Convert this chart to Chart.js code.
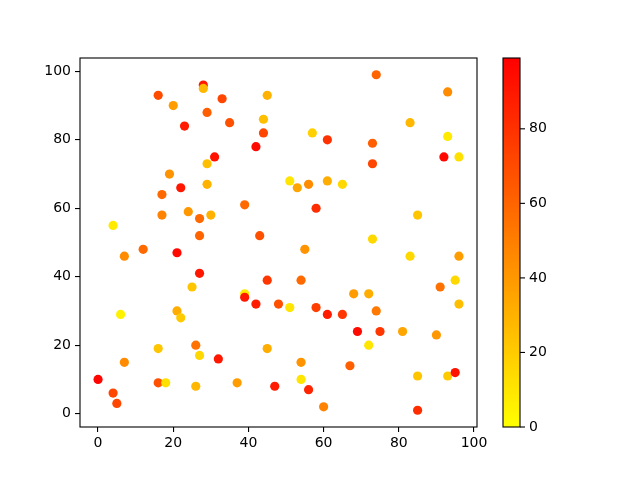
<!DOCTYPE html>
<html>
<head>
<meta charset="utf-8">
<script src="https://cdn.jsdelivr.net/npm/chart.js@4.4.1/dist/chart.umd.min.js"></script>
<style>
  html, body { margin: 0; padding: 0; background: #fff; }
  canvas { display: block; }
</style>
</head>
<body>
<canvas id="scatter-chart" width="640" height="480"></canvas>
<script>
// Scatter coloured by value, autumn_r colormap with colorbar

const xValues = [0, 4, 5, 4, 6, 7, 7, 12, 16, 16, 16, 17, 17, 18, 19, 20, 21, 21, 22, 22,
  23, 24, 25, 26, 26, 27, 27, 27, 27, 28, 28, 29, 29, 29, 30, 31, 32, 33, 35, 37,
  39, 39, 39, 42, 42, 43, 44, 44, 45, 45, 45, 47, 48, 51, 51, 53, 54, 54, 54, 55,
  56, 56, 57, 58, 58, 60, 61, 61, 61, 65, 65, 67, 68, 69, 72, 72, 73, 73, 73, 74,
  74, 75, 81, 83, 83, 85, 85, 85, 90, 91, 92, 93, 93, 93, 95, 95, 96, 96, 96];
const yValues = [10, 6, 3, 55, 29, 46, 15, 48, 93, 19, 9, 64, 58, 9, 70, 90, 47, 30, 66, 28,
  84, 59, 37, 20, 8, 57, 52, 41, 17, 96, 95, 88, 73, 67, 58, 75, 16, 92, 85, 9,
  61, 35, 34, 78, 32, 52, 86, 82, 93, 39, 19, 8, 32, 68, 31, 66, 39, 15, 10, 48,
  67, 7, 82, 60, 31, 2, 80, 68, 29, 67, 29, 14, 35, 24, 35, 20, 79, 73, 51, 99,
  30, 24, 24, 85, 46, 58, 11, 1, 23, 37, 75, 94, 81, 11, 39, 12, 75, 46, 32];
const cValues = [97, 72, 72, 8, 5, 45, 45, 58, 70, 22, 68, 58, 48, 12, 42, 38, 95, 32, 90, 20,
  88, 40, 22, 55, 28, 58, 60, 90, 15, 90, 28, 62, 25, 30, 30, 92, 90, 72, 68, 38,
  58, 8, 90, 95, 88, 68, 25, 72, 30, 78, 32, 88, 68, 10, 10, 35, 58, 42, 10, 42,
  45, 85, 18, 82, 75, 48, 80, 32, 88, 15, 78, 62, 38, 95, 32, 10, 62, 72, 15, 60,
  52, 78, 35, 28, 15, 22, 22, 82, 40, 55, 96, 45, 8, 20, 15, 92, 12, 38, 25];

const xTicks = [0, 20, 40, 60, 80, 100];
const yTicks = [0, 20, 40, 60, 80, 100];
const cbarTicks = [0, 20, 40, 60, 80];
const cbarMin = 0;
const cbarMax = 99;

const FONT = { family: '"DejaVu Sans", sans-serif', size: 14 };

// autumn_r : jaune (0) -> rouge (max)
function autumnR(v) {
  const t = Math.min(1, Math.max(0, (v - cbarMin) / (cbarMax - cbarMin)));
  return `rgb(255, ${Math.round(255 * (1 - t))}, 0)`;
}

const points = xValues.map((x, i) => ({ x: x, y: yValues[i] }));
const pointColors = cValues.map(autumnR);

// Cadre des axes + colorbar
const framePlugin = {
  id: 'frame',
  afterDraw(chart) {
    const ctx = chart.ctx;
    const a = chart.chartArea;
    ctx.save();
    ctx.strokeStyle = '#000';
    ctx.lineWidth = 1.1;
    ctx.strokeRect(a.left, a.top, a.right - a.left, a.bottom - a.top);

    // colorbar
    const cbLeft = 503, cbRight = 520;
    const cbTop = a.top, cbBottom = a.bottom;
    const grad = ctx.createLinearGradient(0, cbBottom, 0, cbTop);
    for (let s = 0; s <= 10; s++) {
      grad.addColorStop(s / 10, autumnR(cbarMin + (cbarMax - cbarMin) * s / 10));
    }
    ctx.fillStyle = grad;
    ctx.fillRect(cbLeft, cbTop, cbRight - cbLeft, cbBottom - cbTop);
    ctx.strokeRect(cbLeft, cbTop, cbRight - cbLeft, cbBottom - cbTop);

    ctx.fillStyle = '#000';
    ctx.font = `${FONT.size}px ${FONT.family}`;
    ctx.textAlign = 'left';
    ctx.textBaseline = 'middle';
    cbarTicks.forEach(v => {
      const y = cbBottom - (v - cbarMin) / (cbarMax - cbarMin) * (cbBottom - cbTop);
      ctx.beginPath();
      ctx.moveTo(cbRight, y);
      ctx.lineTo(cbRight + 5, y);
      ctx.stroke();
      ctx.fillText(String(v), cbRight + 9, y);
    });
    ctx.restore();
  }
};

new Chart(document.getElementById('scatter-chart'), {
  type: 'scatter',
  data: {
    datasets: [{
      data: points,
      pointBackgroundColor: pointColors,
      pointBorderWidth: 0,
      pointRadius: 4.6,
      pointHoverRadius: 4.6
    }]
  },
  options: {
    responsive: false,
    devicePixelRatio: 1,
    animation: false,
    events: [],
    layout: { padding: { top: 58, right: 163, left: 0, bottom: 0 } },
    plugins: {
      legend: { display: false },
      tooltip: { enabled: false }
    },
    scales: {
      x: {
        type: 'linear',
        min: -4.8,
        max: 100.8,
        afterBuildTicks: scale => { scale.ticks = xTicks.map(v => ({ value: v })); },
        afterFit: scale => { scale.height = 53; },
        border: { display: false },
        grid: { drawOnChartArea: false, drawTicks: true, tickLength: 5, color: '#000', lineWidth: 1.1 },
        ticks: { color: '#000', font: FONT, padding: 3, maxRotation: 0 }
      },
      y: {
        type: 'linear',
        min: -3.9,
        max: 103.9,
        afterBuildTicks: scale => { scale.ticks = yTicks.map(v => ({ value: v })); },
        afterFit: scale => { scale.width = 80; },
        border: { display: false },
        grid: { drawOnChartArea: false, drawTicks: true, tickLength: 5, color: '#000', lineWidth: 1.1 },
        ticks: { color: '#000', font: FONT, padding: 4 }
      }
    }
  },
  plugins: [framePlugin]
});
</script>
</body>
</html>
